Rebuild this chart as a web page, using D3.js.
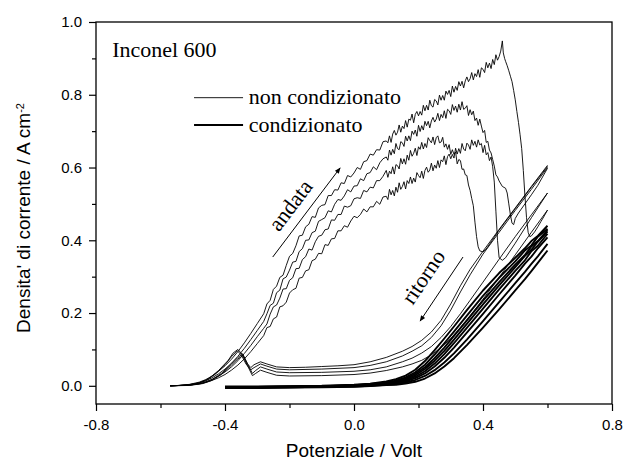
<!DOCTYPE html>
<html>
<head>
<meta charset="utf-8">
<script src="https://cdn.jsdelivr.net/npm/d3@7"></script>
<style>
body { margin: 0; background: #fff; }
</style>
</head>
<body>
<div id="chart"></div>
<script>

//axis ticks
var xTicks = [-0.8, -0.4, 0.0, 0.4, 0.8];
var xTickLabels = ['-0.8', '-0.4', '0.0', '0.4', '0.8'];
var xMinor = [-0.6, -0.2, 0.2, 0.6];
var yTicks = [0.0, 0.2, 0.4, 0.6, 0.8, 1.0];
var yTickLabels = ['0.0', '0.2', '0.4', '0.6', '0.8', '1.0'];
var yMinor = [0.1, 0.3, 0.5, 0.7, 0.9];

//non condizionato - andata (potential V, current density A cm-2)
var andata1 = [[-0.57,0],[-0.54,0.001],[-0.51,0.002],[-0.48,0.006],[-0.46,0.011],[-0.44,0.018],[-0.42,0.027],[-0.40,0.038],[-0.38,0.052],[-0.36,0.069],[-0.34,0.089],[-0.32,0.111],[-0.30,0.135],[-0.28,0.158],
	[-0.27,0.170],[-0.26,0.197],[-0.25,0.217],[-0.24,0.222],[-0.23,0.241],[-0.22,0.266],[-0.21,0.267],[-0.20,0.290],[-0.19,0.297],[-0.18,0.322],[-0.17,0.323],[-0.16,0.347],[-0.15,0.355],[-0.14,0.376],[-0.13,0.373],[-0.12,0.396],[-0.11,0.411],[-0.10,0.414],[-0.09,0.429],[-0.08,0.431],[-0.07,0.456],[-0.06,0.455],[-0.05,0.471],[-0.04,0.471],[-0.03,0.494],[-0.02,0.491],[-0.01,0.495],
	[0.00,0.514],[0.01,0.517],[0.02,0.515],[0.03,0.537],[0.04,0.533],[0.05,0.546],[0.06,0.544],[0.07,0.564],[0.08,0.564],[0.09,0.576],
	[0.100,0.592],[0.105,0.573],[0.110,0.590],[0.115,0.583],[0.120,0.602],[0.125,0.582],[0.130,0.608],[0.135,0.605],[0.140,0.596],[0.145,0.625],[0.150,0.610],[0.155,0.624],[0.160,0.609],[0.165,0.634],[0.170,0.620],[0.175,0.647],[0.180,0.631],[0.185,0.639],[0.190,0.653],[0.195,0.633],
	[0.200,0.657],[0.205,0.650],[0.210,0.669],[0.215,0.651],[0.220,0.666],[0.225,0.655],[0.230,0.682],[0.235,0.674],[0.240,0.668],[0.245,0.684],[0.250,0.663],[0.255,0.682],[0.260,0.687],[0.265,0.668],[0.270,0.670],[0.275,0.683],[0.280,0.656],[0.285,0.665],[0.290,0.650],[0.295,0.663],
	[0.300,0.636],[0.305,0.649],[0.310,0.636],[0.315,0.643],[0.320,0.610],[0.325,0.622],[0.330,0.619],[0.335,0.595],[0.340,0.596],[0.345,0.580],[0.350,0.578],[0.355,0.552],[0.360,0.537],[0.365,0.515],[0.370,0.495],[0.375,0.450],[0.38,0.410],[0.385,0.382],[0.39,0.371],[0.40,0.368],[0.41,0.376],[0.45,0.428],[0.50,0.487],[0.55,0.546],[0.60,0.603]];

var andata2 = [[-0.57,0],[-0.54,0.001],[-0.51,0.002],[-0.48,0.005],[-0.46,0.009],[-0.44,0.015],[-0.42,0.022],[-0.40,0.031],[-0.38,0.043],[-0.36,0.057],[-0.34,0.074],[-0.32,0.094],[-0.30,0.116],[-0.28,0.138],
	[-0.27,0.160],[-0.26,0.163],[-0.25,0.184],[-0.24,0.189],[-0.23,0.217],[-0.22,0.220],[-0.21,0.230],[-0.20,0.255],[-0.19,0.264],[-0.18,0.268],[-0.17,0.296],[-0.16,0.298],[-0.15,0.316],[-0.14,0.319],[-0.13,0.344],[-0.12,0.348],[-0.11,0.364],[-0.10,0.363],[-0.09,0.388],[-0.08,0.386],[-0.07,0.404],[-0.06,0.405],[-0.05,0.426],[-0.04,0.426],[-0.03,0.440],[-0.02,0.436],[-0.01,0.453],
	[0.00,0.466],[0.01,0.462],[0.02,0.471],[0.03,0.486],[0.04,0.478],[0.05,0.492],[0.06,0.492],[0.07,0.507],[0.08,0.499],[0.09,0.519],
	[0.100,0.521],[0.105,0.512],[0.110,0.540],[0.115,0.525],[0.120,0.537],[0.125,0.522],[0.130,0.546],[0.135,0.532],[0.140,0.558],[0.145,0.540],[0.150,0.548],[0.155,0.561],[0.160,0.541],[0.165,0.564],[0.170,0.556],[0.175,0.574],[0.180,0.556],[0.185,0.571],[0.190,0.560],[0.195,0.586],
	[0.200,0.578],[0.205,0.572],[0.210,0.590],[0.215,0.570],[0.220,0.592],[0.225,0.601],[0.230,0.587],[0.235,0.593],[0.240,0.612],[0.245,0.591],[0.250,0.607],[0.255,0.598],[0.260,0.619],[0.265,0.600],[0.270,0.621],[0.275,0.616],[0.280,0.632],[0.285,0.608],[0.290,0.630],[0.295,0.637],
	[0.300,0.624],[0.305,0.636],[0.310,0.626],[0.315,0.653],[0.320,0.637],[0.325,0.652],[0.330,0.639],[0.335,0.666],[0.340,0.651],[0.345,0.646],[0.350,0.667],[0.355,0.662],[0.360,0.650],[0.365,0.676],[0.370,0.661],[0.375,0.672],[0.380,0.656],[0.385,0.676],[0.390,0.662],[0.395,0.666],
	[0.400,0.641],[0.405,0.661],[0.410,0.635],[0.415,0.641],[0.420,0.619],[0.425,0.629],[0.430,0.602],[0.435,0.560],[0.44,0.480],[0.445,0.400],[0.45,0.352],[0.46,0.345],[0.47,0.352],[0.50,0.392],[0.55,0.462],[0.60,0.530]];

var andata3 = [[-0.57,0],[-0.54,0.001],[-0.51,0.003],[-0.48,0.008],[-0.46,0.014],[-0.44,0.022],[-0.42,0.033],[-0.40,0.046],[-0.38,0.062],[-0.36,0.081],[-0.34,0.103],[-0.32,0.127],[-0.30,0.152],[-0.28,0.177],
	[-0.27,0.198],[-0.26,0.221],[-0.25,0.227],[-0.24,0.256],[-0.23,0.263],[-0.22,0.294],[-0.21,0.299],[-0.20,0.318],[-0.19,0.340],[-0.18,0.342],[-0.17,0.369],[-0.16,0.377],[-0.15,0.400],[-0.14,0.401],[-0.13,0.421],[-0.12,0.425],[-0.11,0.452],[-0.10,0.457],[-0.09,0.462],[-0.08,0.481],[-0.07,0.478],[-0.06,0.499],[-0.05,0.512],[-0.04,0.510],[-0.03,0.522],[-0.02,0.539],[-0.01,0.533],
	[0.00,0.549],[0.01,0.550],[0.02,0.569],[0.03,0.564],[0.04,0.583],[0.05,0.586],[0.06,0.602],[0.07,0.594],[0.08,0.613],[0.09,0.624],
	[0.100,0.629],[0.105,0.620],[0.110,0.648],[0.115,0.634],[0.120,0.650],[0.125,0.638],[0.130,0.666],[0.135,0.652],[0.140,0.649],[0.145,0.671],[0.150,0.668],[0.155,0.658],[0.160,0.686],[0.165,0.673],[0.170,0.687],[0.175,0.674],[0.180,0.700],[0.185,0.691],[0.190,0.703],[0.195,0.686],
	[0.200,0.716],[0.205,0.699],[0.210,0.715],[0.215,0.703],[0.220,0.727],[0.225,0.715],[0.230,0.727],[0.235,0.709],[0.240,0.728],[0.245,0.738],[0.250,0.725],[0.255,0.733],[0.260,0.749],[0.265,0.729],[0.270,0.746],[0.275,0.737],[0.280,0.756],[0.285,0.735],[0.290,0.760],[0.295,0.756],
	[0.300,0.746],[0.305,0.773],[0.310,0.757],[0.315,0.769],[0.320,0.752],[0.325,0.774],[0.330,0.758],[0.335,0.781],[0.340,0.760],[0.345,0.763],[0.350,0.770],[0.355,0.743],[0.360,0.759],[0.365,0.745],[0.370,0.755],[0.375,0.729],[0.380,0.736],[0.385,0.716],[0.390,0.733],[0.395,0.714],
	[0.400,0.696],[0.405,0.702],[0.410,0.669],[0.415,0.672],[0.420,0.648],[0.425,0.640],[0.430,0.622],[0.435,0.604],[0.440,0.580],[0.445,0.574],[0.450,0.563],[0.46,0.548],[0.47,0.543],[0.475,0.530],[0.48,0.500],[0.485,0.470],[0.49,0.447],[0.495,0.443],[0.50,0.460],[0.51,0.475],[0.53,0.500],[0.55,0.525],[0.57,0.551],[0.60,0.598]];

var andata4 = [[-0.57,0],[-0.54,0.001],[-0.51,0.004],[-0.48,0.010],[-0.46,0.017],[-0.44,0.027],[-0.42,0.040],[-0.40,0.055],[-0.38,0.073],[-0.36,0.094],[-0.34,0.118],[-0.32,0.144],[-0.30,0.171],[-0.28,0.198],
	[-0.27,0.225],[-0.26,0.235],[-0.25,0.265],[-0.24,0.274],[-0.23,0.298],[-0.22,0.304],[-0.21,0.331],[-0.20,0.356],[-0.19,0.364],[-0.18,0.385],[-0.17,0.412],[-0.16,0.414],[-0.15,0.437],[-0.14,0.444],[-0.13,0.465],[-0.12,0.463],[-0.11,0.489],[-0.10,0.496],[-0.09,0.498],[-0.08,0.523],[-0.07,0.523],[-0.06,0.539],[-0.05,0.538],[-0.04,0.558],[-0.03,0.556],[-0.02,0.578],[-0.01,0.574],
	[0.00,0.585],[0.01,0.600],[0.02,0.595],[0.03,0.616],[0.04,0.619],[0.05,0.637],[0.06,0.634],[0.07,0.649],[0.08,0.648],[0.09,0.671],
	[0.100,0.673],[0.105,0.668],[0.110,0.687],[0.115,0.669],[0.120,0.692],[0.125,0.702],[0.130,0.689],[0.135,0.697],[0.140,0.717],[0.145,0.697],[0.150,0.714],[0.155,0.707],[0.160,0.729],[0.165,0.711],[0.170,0.733],[0.175,0.730],[0.180,0.747],[0.185,0.723],[0.190,0.746],[0.195,0.754],
	[0.200,0.742],[0.205,0.754],[0.210,0.744],[0.215,0.771],[0.220,0.756],[0.225,0.771],[0.230,0.758],[0.235,0.785],[0.240,0.770],[0.245,0.766],[0.250,0.787],[0.255,0.783],[0.260,0.772],[0.265,0.799],[0.270,0.785],[0.275,0.798],[0.280,0.785],[0.285,0.810],[0.290,0.801],[0.295,0.812],
	[0.300,0.795],[0.305,0.824],[0.310,0.807],[0.315,0.823],[0.320,0.812],[0.325,0.836],[0.330,0.824],[0.335,0.837],[0.340,0.819],[0.345,0.838],[0.350,0.849],[0.355,0.836],[0.360,0.844],[0.365,0.861],[0.370,0.841],[0.375,0.858],[0.380,0.850],[0.385,0.869],[0.390,0.848],[0.395,0.874],
	[0.400,0.870],[0.405,0.861],[0.410,0.889],[0.415,0.874],[0.420,0.887],[0.425,0.872],[0.430,0.897],[0.435,0.883],[0.440,0.910],[0.445,0.895],[0.450,0.905],[0.455,0.920],[0.460,0.948],[0.463,0.915],[0.467,0.900],[0.470,0.892],[0.475,0.880],[0.480,0.866],[0.485,0.851],[0.490,0.836],[0.495,0.812],
	[0.500,0.786],[0.505,0.754],[0.510,0.724],[0.515,0.690],[0.520,0.652],[0.525,0.592],[0.530,0.522],[0.535,0.462],[0.54,0.422],[0.545,0.410],[0.55,0.412],[0.56,0.423],[0.57,0.437],[0.58,0.452],[0.59,0.467],[0.60,0.483]];

//non condizionato - ritorno
var ritorno1 = [[0.60,0.606],[0.55,0.548],[0.50,0.489],[0.45,0.430],[0.40,0.370],[0.36,0.320],[0.33,0.275],[0.30,0.225],[0.27,0.180],[0.24,0.148],[0.21,0.125],[0.18,0.108],[0.15,0.095],[0.10,0.078],[0.05,0.066],[0.00,0.058],[-0.05,0.055],[-0.10,0.053],[-0.15,0.051],[-0.20,0.050],[-0.24,0.052],[-0.27,0.060],[-0.29,0.066],[-0.31,0.058],[-0.32,0.050],[-0.33,0.060],[-0.345,0.085],[-0.36,0.100],[-0.375,0.090],[-0.39,0.070],[-0.42,0.042],[-0.45,0.020],[-0.48,0.008],[-0.52,0.002],[-0.57,0]];
var ritorno2 = [[0.60,0.600],[0.55,0.540],[0.50,0.482],[0.45,0.422],[0.40,0.362],[0.36,0.305],[0.33,0.258],[0.30,0.208],[0.27,0.165],[0.24,0.133],[0.21,0.110],[0.18,0.095],[0.15,0.082],[0.10,0.066],[0.05,0.056],[0.00,0.050],[-0.10,0.046],[-0.20,0.044],[-0.24,0.046],[-0.27,0.054],[-0.29,0.060],[-0.31,0.050],[-0.32,0.044],[-0.335,0.060],[-0.35,0.086],[-0.362,0.096],[-0.38,0.080],[-0.40,0.058],[-0.43,0.032],[-0.46,0.014],[-0.49,0.005],[-0.53,0.001],[-0.57,0]];
var ritorno3 = [[0.60,0.530],[0.55,0.470],[0.50,0.410],[0.45,0.348],[0.40,0.285],[0.36,0.235],[0.33,0.198],[0.30,0.163],[0.27,0.133],[0.24,0.108],[0.21,0.090],[0.18,0.076],[0.15,0.066],[0.10,0.052],[0.05,0.044],[0.00,0.040],[-0.10,0.037],[-0.20,0.036],[-0.24,0.038],[-0.27,0.046],[-0.29,0.052],[-0.305,0.042],[-0.315,0.034],[-0.33,0.060],[-0.345,0.088],[-0.36,0.078],[-0.38,0.060],[-0.41,0.035],[-0.44,0.017],[-0.47,0.007],[-0.51,0.002],[-0.57,0]];
var ritorno4 = [[0.60,0.483],[0.55,0.422],[0.50,0.360],[0.45,0.298],[0.40,0.238],[0.36,0.192],[0.33,0.160],[0.30,0.130],[0.27,0.105],[0.24,0.085],[0.21,0.070],[0.18,0.060],[0.15,0.052],[0.10,0.042],[0.05,0.035],[0.00,0.031],[-0.10,0.028],[-0.20,0.027],[-0.24,0.029],[-0.27,0.037],[-0.29,0.043],[-0.305,0.034],[-0.315,0.028],[-0.33,0.055],[-0.345,0.083],[-0.36,0.074],[-0.38,0.057],[-0.41,0.032],[-0.44,0.015],[-0.47,0.006],[-0.51,0.001],[-0.57,0]];

//condizionato
var cond1 = [[-0.40,-0.002],[-0.30,-0.002],[-0.20,-0.001],[-0.10,0.000],[0.00,0.003],[0.05,0.006],[0.10,0.012],[0.13,0.018],[0.16,0.028],[0.19,0.044],[0.22,0.068],[0.25,0.098],[0.28,0.130],[0.31,0.163],[0.35,0.208],[0.40,0.262],[0.45,0.310],[0.50,0.352],[0.53,0.378],[0.55,0.398],[0.57,0.412],[0.60,0.440]];
var cond2 = [[-0.40,-0.003],[-0.30,-0.003],[-0.20,-0.002],[-0.10,-0.001],[0.00,0.002],[0.05,0.005],[0.10,0.009],[0.13,0.014],[0.16,0.023],[0.19,0.037],[0.22,0.058],[0.25,0.086],[0.28,0.117],[0.31,0.149],[0.35,0.193],[0.40,0.247],[0.45,0.297],[0.50,0.342],[0.53,0.372],[0.55,0.386],[0.57,0.410],[0.60,0.432]];
var cond3 = [[-0.40,-0.003],[-0.30,-0.003],[-0.20,-0.002],[-0.10,-0.001],[0.00,0.001],[0.05,0.004],[0.10,0.007],[0.13,0.012],[0.16,0.020],[0.19,0.033],[0.22,0.051],[0.25,0.076],[0.28,0.105],[0.31,0.137],[0.35,0.180],[0.40,0.234],[0.45,0.285],[0.50,0.333],[0.53,0.360],[0.55,0.383],[0.57,0.398],[0.60,0.428]];
var cond4 = [[-0.40,-0.004],[-0.30,-0.004],[-0.20,-0.003],[-0.10,-0.002],[0.00,0.000],[0.05,0.003],[0.10,0.006],[0.13,0.010],[0.16,0.017],[0.19,0.029],[0.22,0.046],[0.25,0.069],[0.28,0.096],[0.31,0.127],[0.35,0.170],[0.40,0.224],[0.45,0.276],[0.50,0.326],[0.53,0.357],[0.55,0.374],[0.57,0.396],[0.60,0.424]];
var cond5 = [[-0.40,-0.004],[-0.30,-0.004],[-0.20,-0.003],[-0.10,-0.002],[0.00,0.000],[0.05,0.002],[0.10,0.005],[0.13,0.008],[0.16,0.014],[0.19,0.025],[0.22,0.040],[0.25,0.061],[0.28,0.087],[0.31,0.117],[0.35,0.159],[0.40,0.212],[0.45,0.265],[0.50,0.316],[0.53,0.345],[0.55,0.370],[0.57,0.385],[0.60,0.418]];
var cond6 = [[-0.40,-0.005],[-0.30,-0.005],[-0.20,-0.004],[-0.10,-0.003],[0.00,-0.001],[0.05,0.001],[0.10,0.004],[0.13,0.007],[0.16,0.012],[0.19,0.021],[0.22,0.034],[0.25,0.053],[0.28,0.077],[0.31,0.105],[0.35,0.146],[0.40,0.198],[0.45,0.251],[0.50,0.303],[0.53,0.336],[0.55,0.355],[0.57,0.378],[0.60,0.408]];
var cond7 = [[-0.40,-0.005],[-0.30,-0.005],[-0.20,-0.004],[-0.10,-0.003],[0.00,-0.002],[0.05,0.000],[0.10,0.003],[0.13,0.005],[0.16,0.009],[0.19,0.016],[0.22,0.027],[0.25,0.043],[0.28,0.064],[0.31,0.089],[0.35,0.127],[0.40,0.178],[0.45,0.230],[0.50,0.282],[0.53,0.313],[0.55,0.335],[0.57,0.356],[0.60,0.390]];
var cond8 = [[-0.40,-0.006],[-0.30,-0.006],[-0.20,-0.005],[-0.10,-0.004],[0.00,-0.003],[0.05,-0.001],[0.10,0.002],[0.13,0.003],[0.16,0.006],[0.19,0.011],[0.22,0.020],[0.25,0.034],[0.28,0.053],[0.31,0.076],[0.35,0.112],[0.40,0.160],[0.45,0.210],[0.50,0.262],[0.53,0.293],[0.55,0.315],[0.57,0.338],[0.60,0.372]];

var thinCurves = [andata1, andata2, andata3, andata4, ritorno1, ritorno2, ritorno3, ritorno4];
var thickCurves = [cond1, cond2, cond3, cond4, cond5, cond6, cond7, cond8];

//annotations, in data units
var arrowAndata = [[-0.252, 0.354], [-0.043, 0.599]];
var arrowRitorno = [[0.338, 0.354], [0.205, 0.178]];


var width = 626, height = 461;
var plotLeft = 96, plotRight = 612, plotTop = 22, plotBottom = 404;

var svg = d3.select('#chart').append('svg')
			.attr('width', width)
			.attr('height', height)
			.style('display', 'block');

var x = d3.scaleLinear().domain([-0.8, 0.8]).range([plotLeft, plotRight]);
var y = d3.scaleLinear().domain([-0.05, 1.0]).range([plotBottom, plotTop]);

svg.append('defs').append('marker')
	.attr('id', 'head')
	.attr('viewBox', '0 0 10 10')
	.attr('refX', 9)
	.attr('refY', 5)
	.attr('markerWidth', 10)
	.attr('markerHeight', 6)
	.attr('markerUnits', 'userSpaceOnUse')
	.attr('orient', 'auto')
	.append('path')
	.attr('d', 'M 0 1 L 10 5 L 0 9 z')
	.style('fill', '#000');

//axes
svg.append('g')
	.attr('transform', 'translate(0,' + plotBottom + ')')
	.call(d3.axisBottom(x).tickValues(xTicks).tickSize(7).tickPadding(8)
		.tickFormat(function(d, i){ return xTickLabels[i]; }));
svg.append('g')
	.attr('transform', 'translate(0,' + plotBottom + ')')
	.call(d3.axisBottom(x).tickValues(xMinor).tickSize(4).tickFormat(''));

svg.append('g')
	.attr('transform', 'translate(' + plotLeft + ',0)')
	.call(d3.axisLeft(y).tickValues(yTicks).tickSize(7).tickPadding(7)
		.tickFormat(function(d, i){ return yTickLabels[i]; }));
svg.append('g')
	.attr('transform', 'translate(' + plotLeft + ',0)')
	.call(d3.axisLeft(y).tickValues(yMinor).tickSize(4).tickFormat(''));

svg.selectAll('.domain').remove();
svg.selectAll('.tick line').style('stroke', '#000').style('stroke-width', 1.2);
svg.selectAll('.tick text')
	.style('font-family', 'Arial, "Liberation Sans", sans-serif')
	.style('font-size', '15px')
	.style('fill', '#000');

//frame
svg.append('rect')
	.attr('x', plotLeft)
	.attr('y', plotTop)
	.attr('width', plotRight - plotLeft)
	.attr('height', plotBottom - plotTop)
	.style('fill', 'none')
	.style('stroke', '#000')
	.style('stroke-width', 1.3);

//curves
var line = d3.line()
	.x(function(d){ return x(d[0]); })
	.y(function(d){ return y(d[1]); });

var plot = svg.append('g');

plot.selectAll('path.thick')
	.data(thickCurves)
	.enter().append('path')
	.attr('class', 'thick')
	.attr('d', line)
	.style('fill', 'none')
	.style('stroke', '#000')
	.style('stroke-width', 1.9)
	.style('stroke-linejoin', 'round');

plot.selectAll('path.thin')
	.data(thinCurves)
	.enter().append('path')
	.attr('class', 'thin')
	.attr('d', line)
	.style('fill', 'none')
	.style('stroke', '#000')
	.style('stroke-width', 0.9)
	.style('stroke-linejoin', 'round');

//arrows
[arrowAndata, arrowRitorno].forEach(function(a){
	svg.append('line')
		.attr('x1', x(a[0][0])).attr('y1', y(a[0][1]))
		.attr('x2', x(a[1][0])).attr('y2', y(a[1][1]))
		.style('stroke', '#000')
		.style('stroke-width', 1)
		.attr('marker-end', 'url(#head)');
});

var serif = '"Times New Roman", "Liberation Serif", serif';

svg.append('text')
	.attr('x', x(-0.75))
	.attr('y', y(0.904))
	.text('Inconel 600')
	.style('font-family', serif)
	.style('font-size', '22px');

svg.append('text')
	.attr('transform', 'translate(' + x(-0.198) + ',' + y(0.497) + ') rotate(-53)')
	.attr('text-anchor', 'middle')
	.attr('dy', '0.35em')
	.text('andata')
	.style('font-family', serif)
	.style('font-size', '22px');

svg.append('text')
	.attr('transform', 'translate(' + x(0.214) + ',' + y(0.300) + ') rotate(-56)')
	.attr('text-anchor', 'middle')
	.attr('dy', '0.35em')
	.text('ritorno')
	.style('font-family', serif)
	.style('font-size', '22px');

//legend
var legend = [{label: 'non condizionato', w: 0.9, yv: 0.792}, {label: 'condizionato', w: 1.9, yv: 0.717}];
legend.forEach(function(l){
	svg.append('line')
		.attr('x1', x(-0.496)).attr('x2', x(-0.344))
		.attr('y1', y(l.yv)).attr('y2', y(l.yv))
		.style('stroke', '#000')
		.style('stroke-width', l.w);
	svg.append('text')
		.attr('x', x(-0.326))
		.attr('y', y(l.yv))
		.attr('dy', '0.3em')
		.text(l.label)
		.style('font-family', serif)
		.style('font-size', '22px');
});

//axis titles
svg.append('text')
	.attr('x', (plotLeft + plotRight) / 2)
	.attr('y', 457)
	.attr('text-anchor', 'middle')
	.text('Potenziale / Volt')
	.style('font-family', 'Arial, "Liberation Sans", sans-serif')
	.style('font-size', '19px');

var ylab = svg.append('text')
	.attr('transform', 'translate(30,218) rotate(-90)')
	.attr('text-anchor', 'middle')
	.style('font-family', 'Arial, "Liberation Sans", sans-serif')
	.style('font-size', '19px');
ylab.append('tspan').text("Densita' di corrente / A cm");
ylab.append('tspan').attr('dy', '-0.55em').style('font-size', '11px').text('-2');

</script>
</body>
</html>
